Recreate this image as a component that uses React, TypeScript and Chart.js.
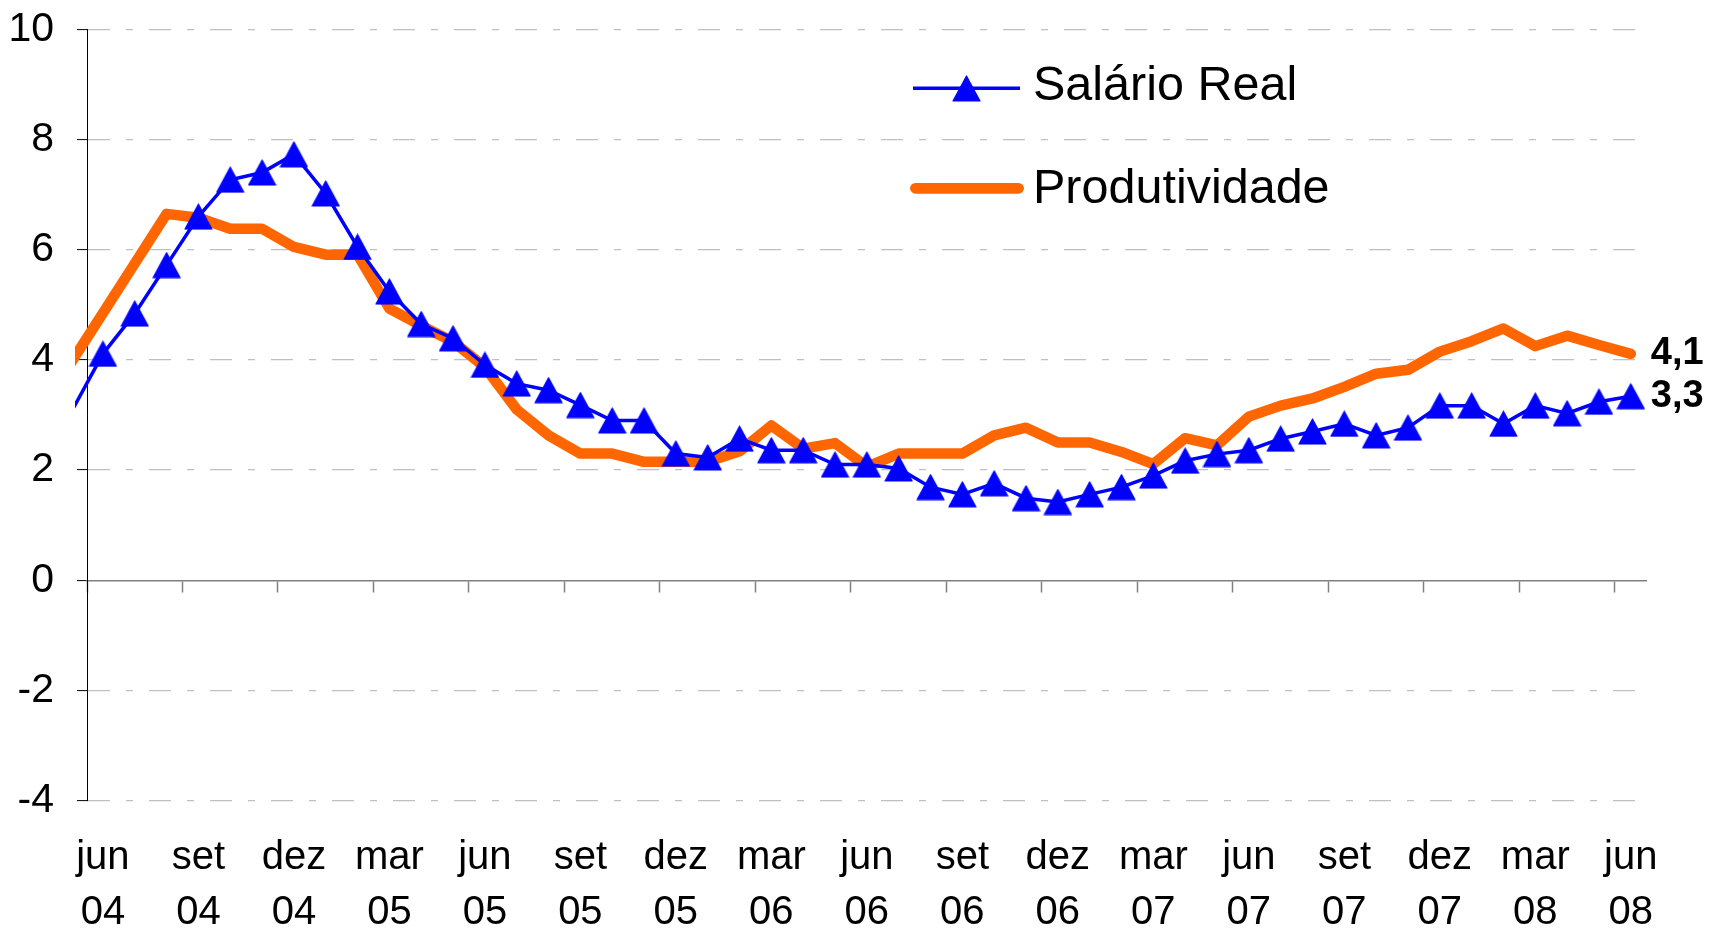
import React, { useEffect, useRef } from 'react';
import { Chart, registerables } from 'chart.js';

Chart.register(...registerables);

// ---------- data ----------
const categories = [
  'mai 04', 'jun 04', 'jul 04', 'ago 04', 'set 04', 'out 04', 'nov 04', 'dez 04',
  'jan 05', 'fev 05', 'mar 05', 'abr 05', 'mai 05', 'jun 05', 'jul 05', 'ago 05', 'set 05', 'out 05', 'nov 05', 'dez 05',
  'jan 06', 'fev 06', 'mar 06', 'abr 06', 'mai 06', 'jun 06', 'jul 06', 'ago 06', 'set 06', 'out 06', 'nov 06', 'dez 06',
  'jan 07', 'fev 07', 'mar 07', 'abr 07', 'mai 07', 'jun 07', 'jul 07', 'ago 07', 'set 07', 'out 07', 'nov 07', 'dez 07',
  'jan 08', 'fev 08', 'mar 08', 'abr 08', 'mai 08', 'jun 08',
];

const salarioReal = [
  3.05, 4.11, 4.84, 5.72, 6.6, 7.27, 7.4, 7.73, 7.02, 6.05,
  5.24, 4.65, 4.39, 3.91, 3.57, 3.45, 3.18, 2.9, 2.9, 2.3,
  2.23, 2.57, 2.36, 2.36, 2.1, 2.1, 2.03, 1.69, 1.56, 1.76,
  1.49, 1.42, 1.56, 1.69, 1.9, 2.17, 2.29, 2.36, 2.57, 2.7,
  2.84, 2.63, 2.77, 3.17, 3.17, 2.84, 3.17, 3.03, 3.24, 3.34,
];

const produtividade = [
  3.95, 4.85, 5.75, 6.65, 6.58, 6.38, 6.38, 6.05, 5.91, 5.91,
  4.93, 4.62, 4.33, 3.87, 3.1, 2.63, 2.3, 2.3, 2.15, 2.15,
  2.15, 2.34, 2.81, 2.39, 2.49, 2.06, 2.3, 2.3, 2.3, 2.63,
  2.77, 2.5, 2.5, 2.33, 2.11, 2.58, 2.45, 2.97, 3.17, 3.3,
  3.51, 3.75, 3.82, 4.15, 4.34, 4.57, 4.25, 4.44, 4.27, 4.11,
];

const seriesNames = ['Salário Real', 'Produtividade'];
const labelMonths = ['mar', 'jun', 'set', 'dez'];
const yTicks = { min: -4, max: 10, step: 2 };

// ---------- helpers ----------
const FONT = '"Liberation Sans", Arial, Helvetica, sans-serif';
const BLUE = '#0000ff';
const ORANGE = '#ff6600';

const labelIdx = categories
  .map((c, i) => (labelMonths.includes(c.split(' ')[0]) ? i : -1))
  .filter((i) => i >= 1);
const tickIdx = labelIdx.map((i) => i - 0.5);

function makeTriangle(w: number, h: number, color: string) {
  const c = document.createElement('canvas');
  c.width = w + 2;
  c.height = h + 2;
  const g = c.getContext('2d')!;
  g.fillStyle = color;
  g.strokeStyle = color;
  g.lineWidth = 1.2;
  g.lineJoin = 'round';
  g.beginPath();
  g.moveTo(c.width / 2, 1);
  g.lineTo(c.width - 1, c.height - 1);
  g.lineTo(1, c.height - 1);
  g.closePath();
  g.fill();
  g.stroke();
  return c;
}

function noPad(s: any) {
  s.paddingTop = 0;
  s.paddingBottom = 0;
  s.paddingLeft = 0;
  s.paddingRight = 0;
}

export default function App() {
  const ref = useRef<HTMLCanvasElement | null>(null);

  useEffect(() => {
    if (!ref.current) return;
    const tri = makeTriangle(27, 25, BLUE);

    const endLabels = {
      id: 'endLabels',
      afterDatasetsDraw(chart: any) {
        const ctx = chart.ctx;
        chart.data.datasets.forEach((ds: any, i: number) => {
          const meta = chart.getDatasetMeta(i);
          const pt = meta.data[meta.data.length - 1];
          const v = ds.data[ds.data.length - 1].y;
          ctx.save();
          ctx.font = 'bold 38px ' + FONT;
          ctx.fillStyle = '#000';
          ctx.textAlign = 'left';
          ctx.textBaseline = 'middle';
          ctx.fillText(v.toFixed(1).replace('.', ','), pt.x + 20, pt.y);
          ctx.restore();
        });
      },
    };

    const legendPlugin = {
      id: 'customLegend',
      afterDraw(chart: any) {
        const ctx = chart.ctx;
        const ds = chart.data.datasets;
        ctx.save();
        ctx.strokeStyle = ds[0].borderColor;
        ctx.lineWidth = 3.5;
        ctx.lineCap = 'butt';
        ctx.beginPath();
        ctx.moveTo(913, 88.3);
        ctx.lineTo(1020, 88.3);
        ctx.stroke();
        ctx.drawImage(tri, 966.5 - tri.width / 2, 88.5 - tri.height / 2);
        ctx.strokeStyle = ds[1].borderColor;
        ctx.lineWidth = 10.7;
        ctx.lineCap = 'round';
        ctx.beginPath();
        ctx.moveTo(915.4, 188.3);
        ctx.lineTo(1018.6, 188.3);
        ctx.stroke();
        ctx.fillStyle = '#000';
        ctx.font = '48.5px ' + FONT;
        ctx.textAlign = 'left';
        ctx.textBaseline = 'alphabetic';
        ctx.fillText(ds[0].label, 1033, 100);
        ctx.fillText(ds[1].label, 1033, 203);
        ctx.restore();
      },
    };

    const chart = new Chart(ref.current, {
      type: 'line',
      data: {
        datasets: [
          {
            label: seriesNames[0],
            data: salarioReal.map((v, i) => ({ x: i, y: v })),
            borderColor: BLUE,
            backgroundColor: BLUE,
            borderWidth: 3.5,
            pointStyle: tri as any,
            pointRadius: salarioReal.map((_, i) => (i === 0 ? 0 : 12)),
            pointHoverRadius: 12,
            tension: 0,
            clip: { left: 12, top: 20, right: 20, bottom: 20 } as any,
          },
          {
            label: seriesNames[1],
            data: produtividade.map((v, i) => ({ x: i, y: v })),
            borderColor: ORANGE,
            backgroundColor: ORANGE,
            borderWidth: 10.5,
            borderCapStyle: 'round',
            borderJoinStyle: 'round',
            pointRadius: 0,
            pointHoverRadius: 0,
            tension: 0,
            clip: { left: 12, top: 20, right: 20, bottom: 20 } as any,
          },
        ],
      },
      options: {
        responsive: false,
        animation: false,
        events: [],
        layout: { padding: { left: 0, right: 66.3, top: 29.3, bottom: 0 } },
        plugins: {
          legend: { display: false },
          tooltip: { enabled: false },
        },
        scales: {
          x: {
            type: 'linear',
            position: 'bottom',
            min: 0.5,
            max: categories.length - 0.5,
            afterBuildTicks: (s: any) => {
              s.ticks = labelIdx.map((v) => ({ value: v }));
            },
            ticks: {
              autoSkip: false,
              maxRotation: 0,
              minRotation: 0,
              padding: 29.6,
              color: '#000',
              font: { family: FONT, size: 40, lineHeight: 1.375 },
              callback: (v: any) => {
                const c = categories[Math.round(Number(v))];
                return c ? c.split(' ') : '';
              },
            },
            grid: { display: false, drawTicks: false },
            border: { display: false },
            afterFit: (s: any) => {
              s.height = 130.3;
              noPad(s);
            },
          },
          x2: {
            type: 'linear',
            axis: 'x',
            position: { y: 0 } as any,
            min: 0.5,
            max: categories.length - 0.5,
            afterBuildTicks: (s: any) => {
              s.ticks = tickIdx.map((v) => ({ value: v }));
            },
            afterFit: (s: any) => noPad(s),
            ticks: { display: false },
            grid: {
              drawOnChartArea: false,
              drawTicks: true,
              tickLength: 11,
              tickColor: '#808080',
              tickWidth: 1.5,
              color: '#808080',
            },
            border: { display: true, color: '#808080', width: 1.5 },
          } as any,
          y: {
            type: 'linear',
            position: 'left',
            min: yTicks.min,
            max: yTicks.max,
            ticks: {
              stepSize: yTicks.step,
              padding: 23,
              color: '#000',
              font: { family: FONT, size: 41 },
              callback: (v: any) => String(v),
            },
            grid: {
              color: (c: any) => (c.tick && c.tick.value === 0 ? 'rgba(0,0,0,0)' : '#c0c0c0'),
              lineWidth: 1.2,
              tickColor: '#000',
              tickLength: 10,
              tickWidth: 1,
              drawTicks: true,
            },
            border: { display: true, color: '#000', width: 1, dash: [22, 16, 7, 16] },
            afterFit: (s: any) => {
              s.width = 87;
              noPad(s);
            },
          },
        },
      },
      plugins: [endLabels, legendPlugin],
    });

    return () => chart.destroy();
  }, []);

  return (
    <div style={{ position: 'fixed', left: 0, top: 0, width: 1713, height: 931, background: '#fff' }}>
      <canvas ref={ref} width={1713} height={931} style={{ display: 'block' }} />
    </div>
  );
}
